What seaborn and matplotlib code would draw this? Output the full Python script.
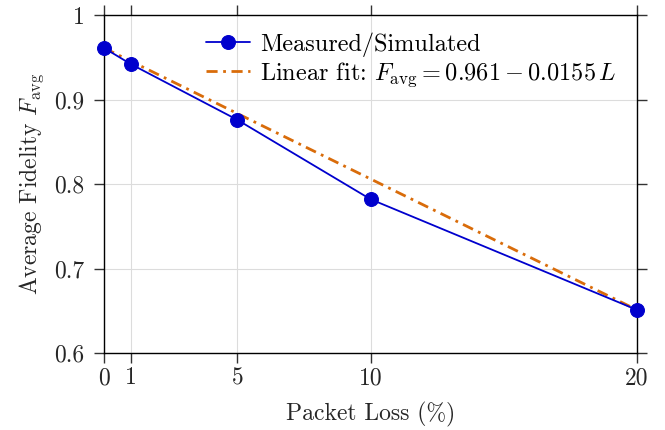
import matplotlib
matplotlib.use("Agg")
import matplotlib.pyplot as plt
import seaborn as sns
import pandas as pd

loss = [0, 1, 5, 10, 20]
fidelity = [0.961, 0.942, 0.876, 0.782, 0.651]
fit_loss = [0, 20]
fit_fid = [0.961, 0.651]
xticks = [0, 1, 5, 10, 20]
yticks = [0.6, 0.7, 0.8, 0.9, 1.0]
ytick_labels = ["0.6", "0.7", "0.8", "0.9", "1"]

sns.set_theme(style="white")
plt.rcParams['font.family'] = ['cmr10', 'DejaVu Serif']
plt.rcParams['mathtext.fontset'] = 'cm'
plt.rcParams['axes.formatter.use_mathtext'] = True

fig = plt.figure(figsize=(6.65, 4.3), dpi=100)
ax = fig.add_axes([104/665, 1-353/430, (637-104)/665, (353-15)/430])

df = pd.DataFrame({"loss": loss, "fid": fidelity})
dfit = pd.DataFrame({"loss": fit_loss, "fid": fit_fid})

sns.lineplot(data=df, x="loss", y="fid", ax=ax, color="#0000CD", lw=1.3,
             marker="o", markersize=10, markeredgecolor="#0000CD",
             label="Measured/Simulated", zorder=3, clip_on=False)
sns.lineplot(data=dfit, x="loss", y="fid", ax=ax, color="#D96C0A", lw=2.0,
             linestyle=(0, (4, 2, 1, 2)), label=r"Linear fit: $F_{\rm avg} = 0.961 - 0.0155\,L$",
             zorder=2)

ax.set_xlim(0, 20)
ax.set_ylim(0.6, 1.0)
ax.set_xticks(xticks)
ax.set_xticklabels([str(t) for t in xticks])
ax.set_yticks(yticks)
ax.set_yticklabels(ytick_labels)
ax.grid(True, color="#DCDCDC", lw=0.8)
ax.set_axisbelow(True)
for s in ax.spines.values():
    s.set_color("black")
    s.set_linewidth(1.0)
    s.set_visible(True)
ax.tick_params(axis="both", which="both", direction="out", length=7, width=1,
               color="#333333", labelsize=17, top=True, right=True,
               labeltop=False, labelright=False, bottom=True, left=True)
ax.tick_params(axis="x", pad=3)
ax.tick_params(axis="y", pad=7)
ax.set_xlabel("Packet Loss (%)", fontsize=17, labelpad=9)
ax.set_ylabel(r"Average Fidelity $F_{\rm avg}$", fontsize=17, labelpad=6)

leg = ax.legend(loc="upper left", bbox_to_anchor=(0.16, 1.0), frameon=False,
                fontsize=17.5, handlelength=1.8, borderaxespad=0.3, labelspacing=0.15,
                handletextpad=0.4)
for t in leg.get_texts():
    t.set_color("black")

fig.savefig("out.png", dpi=100)
